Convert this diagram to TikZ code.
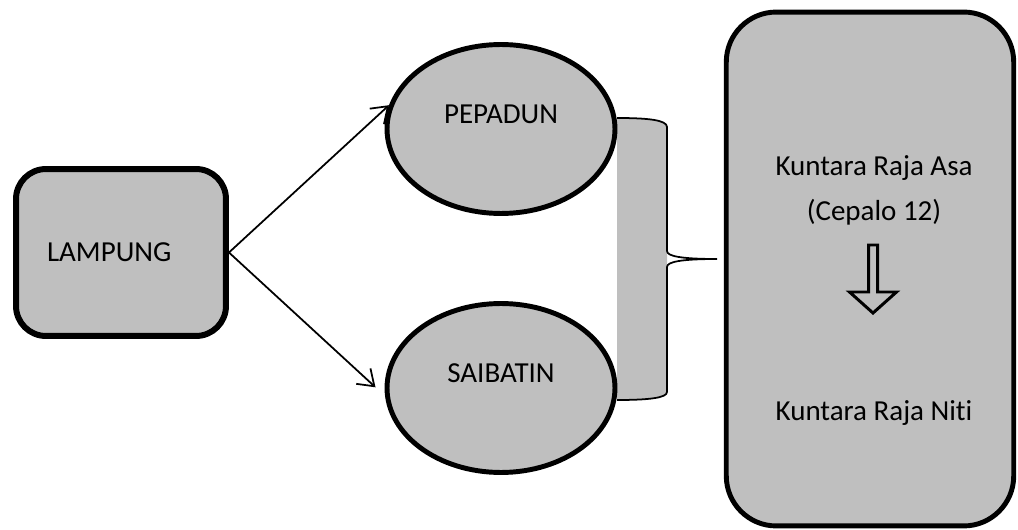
\documentclass[tikz,border=0pt]{standalone}
\usepackage{fontspec}
\setmainfont{Carlito}[Ligatures=NoCommon]
\usepackage{xcolor}
\usepackage{tikz}
\usetikzlibrary{positioning,arrows.meta,shapes.geometric}

\definecolor{boxgray}{RGB}{191,191,191}

\begin{document}
\begin{tikzpicture}[x=0.02cm, y=-0.02cm, ->, >={Straight Barb[length=0.3cm, width=0.42cm]}, every node/.style={font=\fontsize{16.5}{20}\selectfont}, base/.style={draw, fill=boxgray}, group/.style={base, rounded corners=0.6cm, line width=3.4pt, minimum width=4.2cm, minimum height=3.34cm, text width=2.96cm, align=left}, clan/.style={base, ellipse, line width=2.8pt, minimum width=4.56cm, minimum height=3.38cm, inner sep=0pt, text depth=0.6cm}, law/.style={base, rounded corners=1cm, line width=2.8pt, minimum width=5.75cm, minimum height=10.28cm}, every edge/.append style={line width=1pt}]

\useasboundingbox (0,0) rectangle (1018,530);

% brace first, so the ellipses sit on top of its left end
\fill[boxgray] (617,118) .. controls (648,118) and (667,120) .. (667,127) -- (667,392) .. controls (667,398) and (648,400) .. (617,400) -- cycle;
\draw[-, line width=1pt] (617,118) .. controls (648,118) and (667,120) .. (667,127) -- (667,251) .. controls (667,256) and (680,259) .. (717,259) .. controls (680,259) and (667,262) .. (667,267) -- (667,392) .. controls (667,398) and (648,400) .. (617,400);

\node[group] (lampung) at (121,252.5) {LAMPUNG};
\node[clan] (pepadun) at (501,129) {PEPADUN};
\node[clan] (saibatin) at (501,388) {SAIBATIN};

\node[law] (kuntara) at (870,269) {};
\node (asa) at (874,168) {Kuntara Raja Asa};
\node (cepalo) at (874,212) {(Cepalo 12)};
\node (niti) at (874,413) {Kuntara Raja Niti};

% hollow block arrow between the two laws
\coordinate (stem) at (873,245);
\draw[-, line width=1.7pt, fill=boxgray] (stem) ++(-4.5,0) -- ++(9,0) -- ++(0,47) -- ++(19,0) -- ++(-23.5,21) -- ++(-23.5,-21) -- ++(19,0) -- cycle;

\path 
    (lampung.east) edge (pepadun.168)
    (lampung.east) edge[shorten >=0.26cm] (saibatin.184);
\end{tikzpicture}
\end{document}
